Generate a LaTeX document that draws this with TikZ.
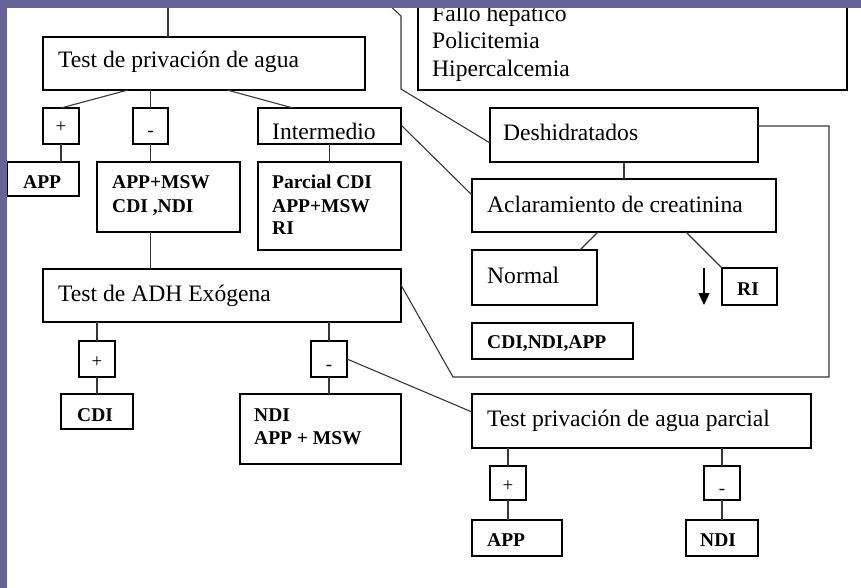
\documentclass[tikz,border=0pt]{standalone}
\usepackage{fontspec}
\setmainfont{Liberation Serif}
\usetikzlibrary{calc,arrows.meta}
\definecolor{bandc}{RGB}{100,100,150}
\definecolor{connc}{RGB}{55,55,55}
\newcommand\mkbox[5]{\node[box, minimum width={(#4-#2)*1pt}, minimum height={(#5-#3)*1pt}] (#1) at (#2,#3) {};}
\begin{document}
\begin{tikzpicture}[x=1pt,y=-1pt,
  box/.style={draw=black, line width=1.2pt, inner sep=0pt, outer sep=0pt, anchor=north west},
  reg/.style={anchor=base west, inner sep=0pt, font=\fontsize{23.6}{27}\selectfont},
  bld/.style={anchor=base west, inner sep=0pt, font=\fontsize{19.5}{23}\selectfont\bfseries},
  sgn/.style={anchor=base, inner sep=0pt, font=\fontsize{19}{22}\selectfont},
  conn/.style={draw=connc, line width=1.1pt}]
\useasboundingbox (0,0) rectangle (861,588);
\fill[white] (0,0) rectangle (861,588);

% boxes
\mkbox{top}{418}{-10}{847}{90}
\mkbox{tpa}{43}{37}{365}{90}
\mkbox{pa}{43}{108}{79}{144}
\mkbox{ma}{133}{108}{168}{144}
\mkbox{inter}{258}{108}{401}{144}
\mkbox{appa}{7}{162}{79}{196}
\mkbox{ama}{97}{162}{240}{232}
\mkbox{parc}{258}{162}{401}{250}
\mkbox{adh}{43}{269}{401}{322}
\mkbox{pb}{79}{341}{115}{377}
\mkbox{mb}{311}{341}{347}{377}
\mkbox{cdi}{61}{394}{133}{429}
\mkbox{ndi}{240}{394}{401}{464}
\mkbox{tpp}{472}{394}{811}{448}
\mkbox{pc}{490}{466}{526}{500}
\mkbox{mc}{704}{466}{740}{500}
\mkbox{appc}{472}{520}{562}{556}
\mkbox{ndic}{686}{520}{758}{556}
\mkbox{desh}{490}{108}{758}{162}
\mkbox{acl}{472}{179}{776}{232}
\mkbox{norm}{472}{250}{597}{305}
\mkbox{ri}{722}{268}{777}{305}
\mkbox{cna}{472}{323}{633}{359}

% texts
\node[reg] (t1) at (432,22) {Fallo hepático};
\node[reg] (t2) at (432,49) {Policitemia};
\node[reg] (t3) at (432,77) {Hipercalcemia};
\node[reg] (t4) at (58,68) {Test de privación de agua};
\node[sgn] (t5) at (61,133) {+};
\node[sgn] (t6) at (150.5,137) {-};
\node[reg] (t7) at (272,140) {Intermedio};
\node[bld] (t8) at (23,188) {APP};
\node[bld] (t9) at (112,188) {APP+MSW};
\node[bld] (t10) at (112,212) {CDI ,NDI};
\node[bld] (t11) at (272,188) {Parcial CDI};
\node[bld] (t12) at (272,212) {APP+MSW};
\node[bld] (t13) at (272,234) {RI};
\node[reg] (t14) at (58,301) {Test de ADH Exógena};
\node[sgn] (t15) at (97,367) {+};
\node[sgn] (t16) at (329,370) {-};
\node[bld] (t17) at (77,421) {CDI};
\node[bld] (t18) at (254,421) {NDI};
\node[bld] (t19) at (254,444) {APP + MSW};
\node[reg] (t20) at (487,426) {Test privación de agua parcial};
\node[sgn] (t21) at (508,491) {+};
\node[sgn] (t22) at (722,494) {-};
\node[bld] (t23) at (487,546) {APP};
\node[bld] (t24) at (700,546) {NDI};
\node[reg] (t25) at (503,141) {Deshidratados};
\node[reg] (t26) at (487,212) {Aclaramiento de creatinina};
\node[reg] (t27) at (487,283) {Normal};
\node[bld] (t28) at (737,295) {RI};
\node[bld] (t29) at (487,348) {CDI,NDI,APP};

% connectors
\coordinate (ttop) at (168,0);
\draw[conn] (ttop) -- (ttop |- tpa.north);
\draw[conn] ($(tpa.south west)+(85,0)$) -- (pa.north);
\draw[conn] (ma.north |- tpa.south) -- (ma.north);
\draw[conn] ($(tpa.south west)+(184,0)$) -- ($(inter.north west)+(35,0)$);
\draw[conn] (pa.south) -- (pa.south |- appa.north);
\draw[conn] (ma.south) -- (ma.south |- ama.north);
\draw[conn] (inter.south) -- (inter.south |- parc.north);
\draw[conn] (ama.south -| ma.south) -- (ma.south |- adh.north);
\draw[conn] (pb.north |- adh.south) -- (pb.north);
\draw[conn] (pb.south) -- (cdi.north);
\draw[conn] (mb.north |- adh.south) -- (mb.north);
\draw[conn] (mb.south) -- (mb.south |- ndi.north);
\draw[conn] (mb.east) -- ($(tpp.north west)+(0,18)$);
\draw[conn] (pc.north |- tpp.south) -- (pc.north);
\draw[conn] (pc.south) -- (pc.south |- appc.north);
\draw[conn] (mc.north |- tpp.south) -- (mc.north);
\draw[conn] (mc.south) -- (mc.south |- ndic.north);
\draw[conn] ($(inter.north east)+(0,17)$) -- ($(acl.north west)+(0,16)$);
\coordinate (tl) at (384,0);
\coordinate (k1) at (401,16);
\coordinate (k2) at (401,89);
\draw[conn] (tl) -- (k1) -- (k2) -- ($(desh.north west)+(0,35)$);
\draw[conn] (acl.north |- desh.south) -- (acl.north);
\coordinate (l1) at (829,126);
\coordinate (l2) at (829,377);
\coordinate (l3) at (453,377);
\draw[conn] ($(desh.north east)+(0,18)$) -- (l1) -- (l2) -- (l3) -- ($(adh.north east)+(0,16)$);
\draw[conn] ($(acl.south west)+(126,0)$) -- ($(norm.north west)+(108,0)$);
\draw[conn] ($(acl.south west)+(214,0)$) -- (ri.north west);
\coordinate (arA) at (704,268);
\coordinate (arB) at (704,305);
\draw[line width=1.2pt, -{Triangle[length=12pt,width=11pt]}] (arA) -- (arB);

% frame bands
\fill[bandc] (0,0) rectangle (861,8);
\fill[bandc] (0,0) rectangle (7,588);
\end{tikzpicture}
\end{document}
